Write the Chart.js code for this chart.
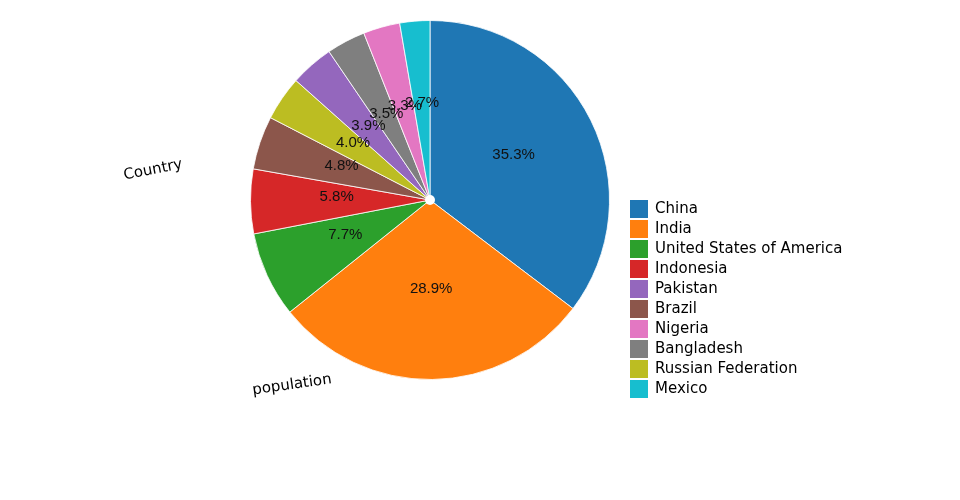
<!DOCTYPE html>
<html>
<head>
<meta charset="utf-8">
<script src="https://cdn.jsdelivr.net/npm/chart.js@4/dist/chart.umd.min.js"></script>
<style>
  html, body { margin: 0; padding: 0; background: #fff; }
  #wrap { width: 960px; height: 500px; }
</style>
</head>
<body>
<div id="wrap"><canvas id="pieChart" width="960" height="500"></canvas></div>
<script>
// datos en el orden de la leyenda
const countries = ['China', 'India', 'United States of America', 'Indonesia', 'Pakistan',
                   'Brazil', 'Nigeria', 'Bangladesh', 'Russian Federation', 'Mexico'];
const population = [35.3, 28.9, 7.7, 5.8, 3.9, 4.8, 3.3, 3.5, 4.0, 2.7];
const colors = ['#1f77b4', '#ff7f0e', '#2ca02c', '#d62728', '#9467bd',
                '#8c564b', '#e377c2', '#7f7f7f', '#bcbd22', '#17becf'];

const LEGEND_FONT = '15px "DejaVu Sans", sans-serif';

// el pastel va ordenado de mayor a menor, en sentido horario desde arriba
const order = countries.map((_, i) => i).sort((a, b) => population[b] - population[a]);
const total = population.reduce((s, v) => s + v, 0);

// etiquetas de porcentaje dentro de cada porción
const pctLabels = {
    id: 'pctLabels',
    afterDatasetsDraw(chart) {
        const ctx = chart.ctx;
        const meta = chart.getDatasetMeta(0);
        const values = chart.data.datasets[0].data;
        ctx.save();
        ctx.font = '15px "Liberation Sans", Arial, sans-serif';
        ctx.fillStyle = '#111';
        ctx.textAlign = 'center';
        ctx.textBaseline = 'middle';
        meta.data.forEach((arc, i) => {
            const mid = (arc.startAngle + arc.endAngle) / 2;
            const r = arc.outerRadius * 0.52;
            const x = arc.x + Math.cos(mid) * r;
            const y = arc.y + Math.sin(mid) * r - 4;
            ctx.fillText((values[i] / total * 100).toFixed(1) + '%', x, y);
        });
        // punto blanco en el centro
        const c = meta.data[0];
        ctx.fillStyle = '#fff';
        ctx.beginPath();
        ctx.arc(c.x, c.y, 5, 0, Math.PI * 2);
        ctx.fill();
        ctx.restore();
    }
};

// leyenda y textos girados
const sideTexts = {
    id: 'sideTexts',
    afterDraw(chart) {
        const ctx = chart.ctx;
        ctx.save();
        ctx.font = LEGEND_FONT;
        ctx.textBaseline = 'middle';
        countries.forEach((name, i) => {
            const y = 209 + i * 20;
            ctx.fillStyle = colors[i];
            ctx.fillRect(630, y - 9, 18, 18);
            ctx.fillStyle = '#000';
            ctx.fillText(name, 655, y);
        });

        const rotated = (txt, x, y, deg) => {
            ctx.save();
            ctx.translate(x, y);
            ctx.rotate(deg * Math.PI / 180);
            ctx.textAlign = 'center';
            ctx.fillText(txt, 0, 0);
            ctx.restore();
        };
        ctx.fillStyle = '#000';
        rotated('Country', 153, 170, -11);
        rotated('population', 292, 385, -8);
        ctx.restore();
    }
};

new Chart(document.getElementById('pieChart'), {
    type: 'pie',
    data: {
        labels: order.map(i => countries[i]),
        datasets: [{
            data: order.map(i => population[i]),
            backgroundColor: order.map(i => colors[i]),
            borderColor: 'rgba(255,255,255,0.8)',
            borderWidth: 1
        }]
    },
    options: {
        responsive: false,
        animation: false,
        layout: { padding: { left: 250, right: 350, top: 20, bottom: 120 } },
        plugins: {
            legend: { display: false },
            tooltip: { enabled: false }
        }
    },
    plugins: [pctLabels, sideTexts]
});
</script>
</body>
</html>
